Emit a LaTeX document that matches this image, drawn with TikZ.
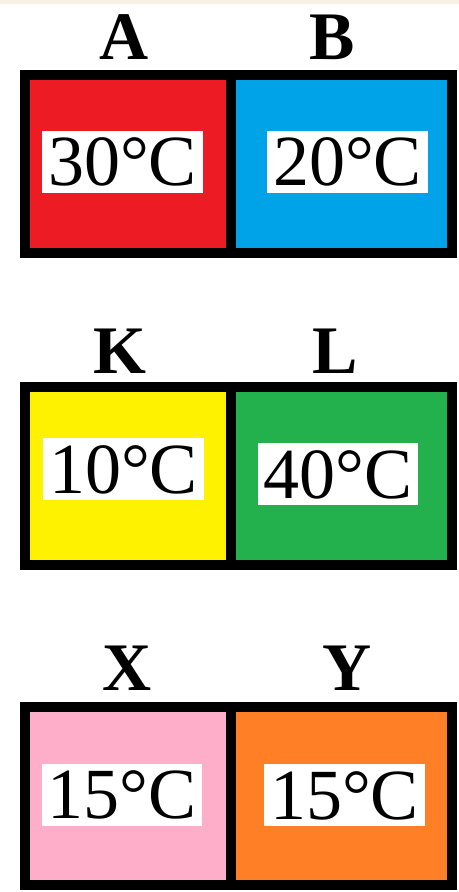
\documentclass[tikz,border=0pt]{standalone}
\usepackage{fontspec}
\setmainfont{Liberation Serif}
\usepackage{tikz}
\usetikzlibrary{positioning}
\usepackage{xcolor}

\definecolor{hotred}{HTML}{ED1C24}
\definecolor{coolblue}{HTML}{00A2E8}
\definecolor{paleyellow}{HTML}{FFF200}
\definecolor{leafgreen}{HTML}{22B14C}
\definecolor{softpink}{HTML}{FFAEC9}
\definecolor{brightorange}{HTML}{FF7F27}
\definecolor{papertint}{HTML}{F8F0E2}

\begin{document}
\begin{tikzpicture}[
    x=0.5pt,y=-0.5pt,
    cell/.style={draw=black,line width=5pt,minimum height=89pt,inner sep=0pt,anchor=center},
    leftcell/.style={cell,minimum width=102.75pt},
    rightcell/.style={cell,minimum width=110.75pt},
    temp/.style={fill=white,font=\fontsize{36}{36}\selectfont,text height=27.5pt,text depth=3.5pt,inner xsep=3pt,inner ysep=0pt,anchor=center},
    tag/.style={font=\fontsize{34}{34}\selectfont\bfseries,anchor=base,inner sep=0pt},
]
\useasboundingbox (0,0) rectangle (459,892);
\fill[papertint] (0,0) rectangle (459,4);

% bodies in contact, one pair per row
\node[leftcell,fill=hotred]        (cellA) at (127.75,164) {};
\node[rightcell,fill=coolblue]     (cellB) at (341.25,164) {};
\node[leftcell,fill=paleyellow]    (cellK) at (127.75,476) {};
\node[rightcell,fill=leafgreen]    (cellL) at (341.25,476) {};
\node[leftcell,fill=softpink]      (cellX) at (127.75,796) {};
\node[rightcell,fill=brightorange] (cellY) at (341.25,796) {};

% temperatures
\node[temp] (tA) at (122.5,162) {30°C};
\node[temp] (tB) at (347.5,162) {20°C};
\node[temp] (tK) at (123.5,469) {10°C};
\node[temp] (tL) at (338,474)   {40°C};
\node[temp] (tX) at (122,794.5) {15°C};
\node[temp] (tY) at (344.5,795) {15°C};

% names above each body
\foreach \n/\x/\y in {A/124/60,B/332/60,K/120/373,L/335/373,X/127/690,Y/347/690}
  \node[tag] (name\n) at (\x,\y) {\n};
\end{tikzpicture}
\end{document}
